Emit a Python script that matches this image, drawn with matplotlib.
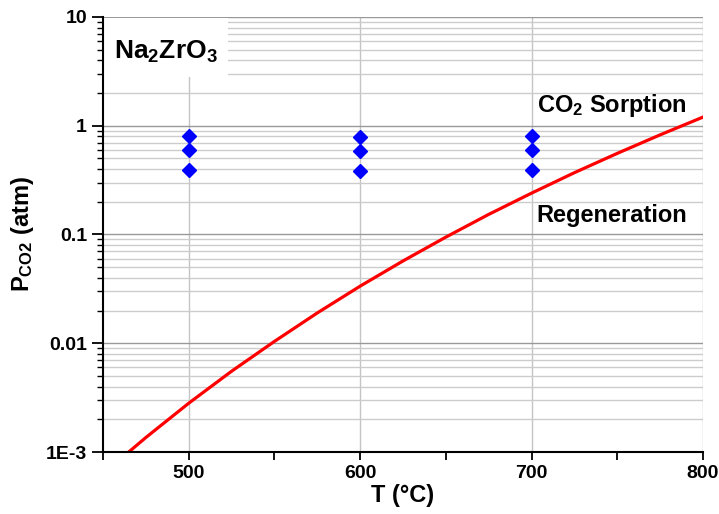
import numpy as np
import matplotlib
matplotlib.use('Agg')
import matplotlib.pyplot as plt
from matplotlib.patches import Rectangle
from matplotlib.ticker import FixedLocator, LogLocator, NullFormatter, FuncFormatter

plt.rcParams['font.family'] = ['Liberation Sans', 'DejaVu Sans']
plt.rcParams['font.weight'] = 'bold'
plt.rcParams['mathtext.default'] = 'regular'

# equilibrium CO2 pressure over Na2ZrO3 (T in degC, P in atm)
T_eq = [465, 475, 500, 525, 550, 575, 600, 625, 650, 675, 700, 725, 750, 775, 800]
P_eq = [1.0e-3, 1.36e-3, 2.81e-3, 5.53e-3, 0.0104, 0.0190, 0.0335, 0.0571,
        0.0946, 0.153, 0.240, 0.370, 0.557, 0.824, 1.20]

# sorption test conditions
T_exp = [500, 500, 500, 600, 600, 600, 700, 700, 700]
P_exp = [0.8, 0.6, 0.39, 0.79, 0.59, 0.38, 0.81, 0.6, 0.39]

y_ticks = [1e-3, 0.01, 0.1, 1, 10]
y_labels = ['1E-3', '0.01', '0.1', '1', '10']
x_ticks = [500, 600, 700, 800]

fig = plt.figure(figsize=(7.19, 5.14), dpi=100)
ax = fig.add_axes([0.1433, 0.1206, 0.8344, 0.8464])

ax.set_yscale('log')
ax.set_xlim(450, 800)
ax.set_ylim(1e-3, 10)

# ticks and grid
ax.yaxis.set_major_locator(FixedLocator(y_ticks))
ax.yaxis.set_minor_locator(LogLocator(base=10, subs=np.arange(2, 10)))
ax.yaxis.set_major_formatter(FuncFormatter(lambda v, p: y_labels[y_ticks.index(v)] if v in y_ticks else ''))
ax.yaxis.set_minor_formatter(NullFormatter())
ax.xaxis.set_major_locator(FixedLocator(x_ticks))
ax.xaxis.set_minor_locator(FixedLocator([450, 550, 650, 750]))

ax.grid(True, which='major', axis='y', color='#999999', lw=1.0)
ax.grid(True, which='minor', axis='y', color='#cccccc', lw=1.0)
ax.grid(True, which='major', axis='x', color='#c4c4c4', lw=1.0)
ax.set_axisbelow(True)

ax.plot(T_eq, P_eq, color='#ff0000', lw=2.3, zorder=3)
ax.plot(T_exp, P_exp, ls='none', marker='D', ms=7.5, color='#0000ff', mec='#0000ff', zorder=4)

for s in ['top', 'right']:
    ax.spines[s].set_visible(False)
for s in ['left', 'bottom']:
    ax.spines[s].set_linewidth(1.5)
    ax.spines[s].set_zorder(6)

ax.tick_params(axis='both', which='major', direction='out', length=6, width=1.3, labelsize=14)
ax.tick_params(axis='y', which='major', length=8)
ax.tick_params(axis='both', which='minor', direction='out', length=4, width=1.0)
ax.tick_params(axis='x', which='minor', length=6, width=1.3)
for lab in ax.get_xticklabels() + ax.get_yticklabels():
    lab.set_fontweight('bold')

ax.set_xlabel('T (°C)', fontsize=17, fontweight='bold', labelpad=1)
ax.set_ylabel('P$_{CO2}$ (atm)', fontsize=17, fontweight='bold', labelpad=7)

# white label box in the upper left corner
ax.add_patch(Rectangle((0, 0.862), 0.208, 0.136, transform=ax.transAxes,
                       facecolor='white', edgecolor='none', zorder=4))
ax.text(0.105, 0.92, 'Na$_2$ZrO$_3$', transform=ax.transAxes, fontsize=19,
        fontweight='bold', ha='center', va='center', zorder=5)
ax.text(703, 1.55, 'CO$_2$ Sorption', fontsize=17, fontweight='bold', ha='left', va='center', zorder=5)
ax.text(703, 0.151, 'Regeneration', fontsize=17, fontweight='bold', ha='left', va='center', zorder=5)

fig.savefig('out.png', dpi=100)
